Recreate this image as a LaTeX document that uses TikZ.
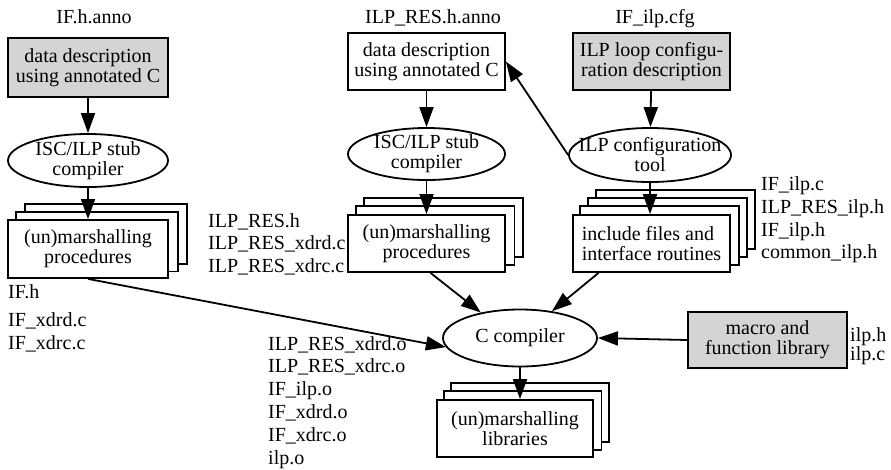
\documentclass[tikz,border=0pt]{standalone}
\usepackage{fontspec}
\setmainfont{Liberation Serif}
\usetikzlibrary{arrows.meta,shapes.geometric,calc,backgrounds}

% shifted copies behind a stacked node: name, count, dx, dy
\newcommand\backlayers[4]{%
  \begin{scope}[on background layer]
    \foreach \k in {#2,...,1}{
      \draw[box] ([shift={({\k*#3pt},{\k*#4pt})}]#1.south west)
        rectangle ([shift={({\k*#3pt},{\k*#4pt})}]#1.north east);
    }
  \end{scope}}

\begin{document}
\begin{tikzpicture}[x=1pt,y=-1pt,
  every node/.style={font=\fontsize{20}{20}\selectfont},
  box/.style={draw=black,line width=1.8pt,fill=white},
  rbox/.style={box,inner sep=0pt,minimum width=157pt,minimum height=57pt,align=center},
  gbox/.style={rbox,fill=black!17},
  ell/.style={draw=black,line width=1.8pt,fill=white,ellipse,inner sep=0pt},
  txt/.style={inner sep=0pt,align=center},
  lbl/.style={inner sep=0pt,text height=13pt,text depth=0pt},
  files/.style={inner sep=0pt,anchor=north west,align=left,
    font=\fontsize{20}{22.8}\selectfont},
  arr/.style={line width=1.8pt,-{Triangle[length=20pt,width=14pt]}}]
\useasboundingbox (0,0) rectangle (891,469);

% ---- left column: IF.h.anno
\node[lbl] (t1) at (94,17) {IF.h.anno};
\node[gbox,minimum width=160pt,minimum height=59pt] (lbox) at (88,67.5)
  {data description\\using annotated C};
\node[ell,minimum width=160pt,minimum height=53pt] (lell) at (88,160.5) {};
\node[txt] (lellt) at (lell) {ISC/ILP stub\\compiler};
\node[rbox,minimum width=160pt,minimum height=58pt] (lstack) at (88,249)
  {(un)marshalling\\procedures};
\backlayers{lstack}{2}{9}{7.5}
\node[files] (lfiles) at (8,284) {IF.h\\[6pt]IF\_xdrd.c\\IF\_xdrc.c};

% ---- middle column: ILP_RES.h.anno
\node[lbl] (t2) at (433,17) {ILP\_RES.h.anno};
\node[rbox] (mbox) at (426.5,61.5) {data description\\using annotated C};
\node[ell,minimum width=157pt,minimum height=52pt] (mell) at (426.5,154) {};
\node[txt] (mellt) at (mell) {ISC/ILP stub\\compiler};
\node[rbox] (mstack) at (426.5,243.5) {(un)marshalling\\procedures};
\backlayers{mstack}{2}{8.5}{8}
\node[files] (mfiles) at (208,213) {ILP\_RES.h\\ILP\_RES\_xdrd.c\\ILP\_RES\_xdrc.c};

% ---- right column: IF_ilp.cfg
\node[lbl] (t3) at (655,17) {IF\_ilp.cfg};
\node[gbox] (rbox) at (651.5,61.5) {ILP loop configu-\\ration description};
\node[ell,minimum width=162pt,minimum height=54pt] (rell) at (650,155) {};
\node[txt] (rellt) at (rell) {ILP configuration\\tool};
\node[rbox,align=left] (rstack) at (651.5,243.5) {include files and\\interface routines};
\backlayers{rstack}{3}{8}{8}
\node[files] (rfiles) at (761,176.5) {IF\_ilp.c\\ILP\_RES\_ilp.h\\IF\_ilp.h\\common\_ilp.h};

% ---- C compiler and its inputs and output
\node[ell,minimum width=154pt,minimum height=57pt] (cc) at (520,338) {};
\node[txt] (cct) at (cc) {C compiler};
\node[gbox,minimum width=159pt,minimum height=56pt] (macro) at (767.5,340)
  {macro and\\function library};
\node[files,font=\fontsize{20}{18}\selectfont] (mfl) at (850,327) {ilp.h\\ilp.c};
\node[rbox,minimum width=156pt] (lib) at (515,428.5) {(un)marshalling\\libraries};
\backlayers{lib}{2}{7.5}{8}
\node[files] (ofiles) at (268,336)
  {ILP\_RES\_xdrd.o\\ILP\_RES\_xdrc.o\\IF\_ilp.o\\IF\_xdrd.o\\IF\_xdrc.o\\ilp.o};

% ---- connectors
\draw[arr] (lbox) -- (lell);
\draw[arr] (lell) -- (lstack);
\draw[arr] (mbox) -- (mell);
\draw[arr] (mell.south) -- (mell.south |- mstack.north);
\draw[arr] (rbox) -- (rell);
\draw[arr] (rell.south) -- (rell.south |- rstack.north);
\draw[arr] (rell.west) -- (mbox.east);
\draw[arr] (lstack.south) -- (cc.187);
\draw[arr] ([xshift=4pt]mstack.south) -- (cc.147);
\draw[arr] ([xshift=-53pt]rstack.south) -- (cc.40);
\draw[arr] (macro.west) -- (cc.east);
\draw[arr] (cc.south) -- (cc.south |- lib.north);
\end{tikzpicture}
\end{document}
